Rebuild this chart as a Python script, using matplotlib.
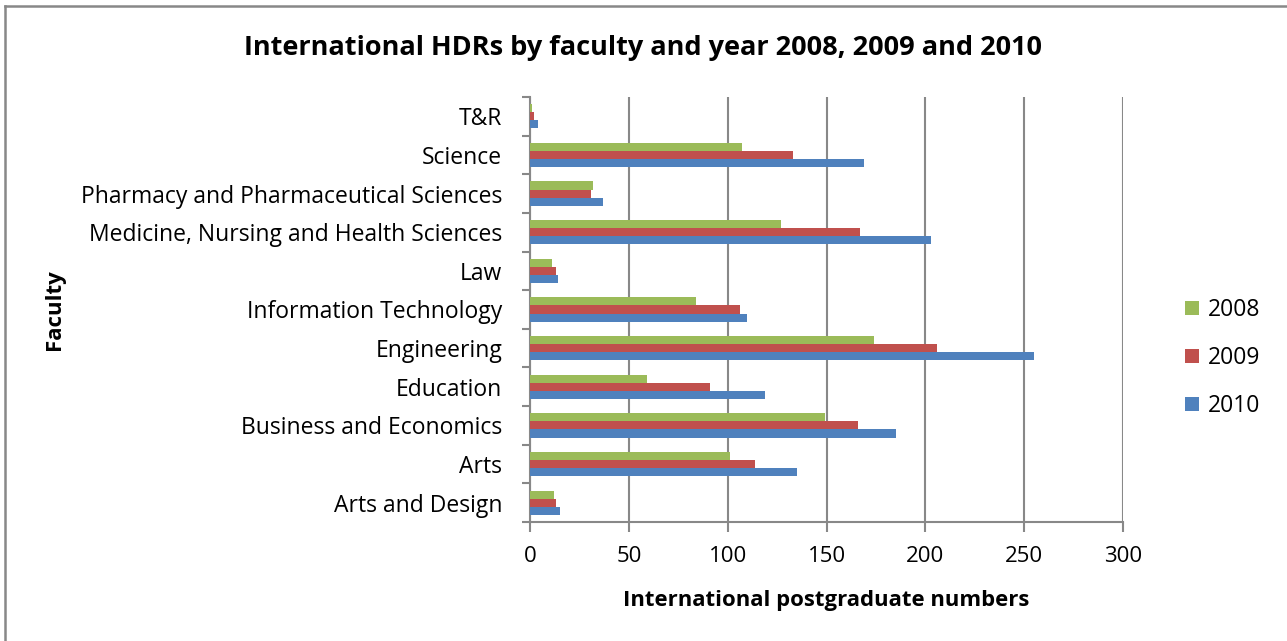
import matplotlib
matplotlib.use("Agg")
import matplotlib.pyplot as plt
import numpy as np
from matplotlib.lines import Line2D

faculties = ["Arts and Design", "Arts", "Business and Economics", "Education",
             "Engineering", "Information Technology", "Law",
             "Medicine, Nursing and Health Sciences",
             "Pharmacy and Pharmaceutical Sciences", "Science", "T&R"]
v2008 = [12, 101, 149, 59, 174, 84, 11, 127, 32, 107, 1]
v2009 = [13, 114, 166, 91, 206, 106, 13, 167, 31, 133, 2]
v2010 = [15, 135, 185, 119, 255, 110, 14, 203, 37, 169, 4]
years = ["2008", "2009", "2010"]
colors = ["#9BBB59", "#C0504D", "#4F81BD"]
xticks = [0, 50, 100, 150, 200, 250, 300]

plt.rcParams['font.family'] = ['Open Sans', 'DejaVu Sans']

fig = plt.figure(figsize=(12.87, 6.41), dpi=100)
ax = fig.add_axes([530/1287, 1-522/641, (1123-530)/1287, (522-97)/641])

y = np.arange(len(faculties))
h = 0.21
ax.barh(y - h, v2010, height=h, color=colors[2], label=years[2], zorder=3)
ax.barh(y, v2009, height=h, color=colors[1], label=years[1], zorder=3)
ax.barh(y + h, v2008, height=h, color=colors[0], label=years[0], zorder=3)

ax.set_xlim(0, 300)
ax.set_ylim(-0.5, len(faculties) - 0.5)
ax.set_xticks(xticks)
ax.set_xticklabels([str(t) for t in xticks], fontsize=16)
ax.set_yticks(y)
ax.set_yticklabels(faculties, fontsize=16.5)
ax.set_yticks(np.arange(len(faculties) + 1) - 0.5, minor=True)
ax.tick_params(axis='y', which='major', length=0, pad=20)
ax.tick_params(axis='y', which='minor', length=6, color='#888888', width=1.5)
ax.tick_params(axis='x', length=7, color='#888888', width=1.5, pad=10)
ax.grid(axis='x', color='#888888', linewidth=1.5, zorder=0)
for s in ['top', 'right']:
    ax.spines[s].set_visible(False)
for s in ['left', 'bottom']:
    ax.spines[s].set_color('#888888')
    ax.spines[s].set_linewidth(1.5)

ax.set_xlabel("International postgraduate numbers", fontsize=15.9, fontweight='bold', labelpad=17)
fig.text(0.0427, 1-310/641, "Faculty", rotation=90, fontsize=16, fontweight='bold', va='center', ha='center')
fig.text(0.5, 0.925, "International HDRs by faculty and year 2008, 2009 and 2010",
         fontsize=19.5, fontweight='bold', ha='center', va='center')

handles, labels = ax.get_legend_handles_labels()
order = [2, 1, 0]
leg = ax.legend([handles[i] for i in order], [labels[i] for i in order],
                loc='center left', bbox_to_anchor=(1.07, 0.386), frameon=False,
                fontsize=16.5, handlelength=0.6, handleheight=0.6, labelspacing=1.05,
                handletextpad=0.4)

fig.add_artist(Line2D([5/1287, 5/1287], [0, 1-5.5/641], transform=fig.transFigure,
                      color='#888888', linewidth=1.8))
fig.add_artist(Line2D([5/1287, 1], [1-5.5/641, 1-5.5/641], transform=fig.transFigure,
                      color='#888888', linewidth=1.8))

fig.savefig("out.png", dpi=100)
